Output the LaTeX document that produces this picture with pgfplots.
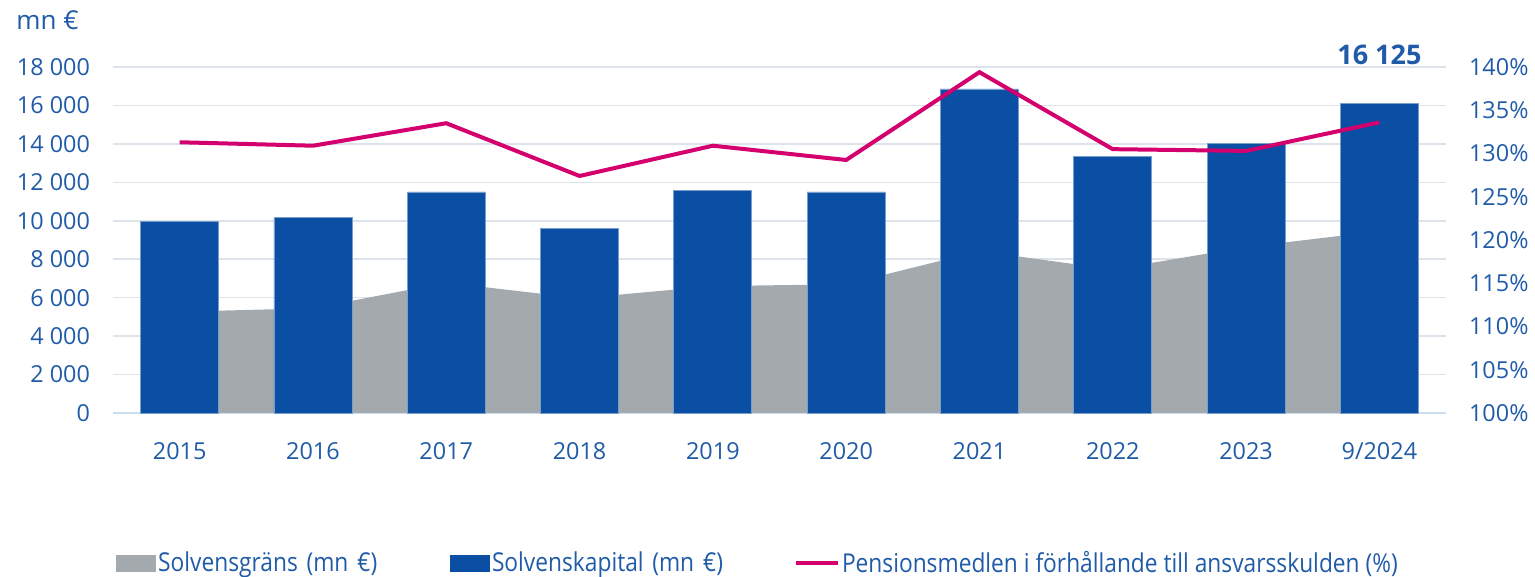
\documentclass[border=0pt]{standalone}
\usepackage{fontspec}
\setmainfont{Open Sans}
\newfontfamily\legfont[FakeStretch=0.875]{Open Sans}
\usepackage{pgfplots}
\pgfplotsset{compat=1.18}
\definecolor{barblue}{HTML}{0A4FA3}
\definecolor{areagrey}{HTML}{A3A9AC}
\definecolor{ratiopink}{HTML}{D3006D}
\definecolor{textblue}{HTML}{1F5BA8}
\definecolor{gridcol}{HTML}{DDE3EB}
\definecolor{baseblue}{HTML}{CCDDF0}

\begin{document}
\begin{tikzpicture}
\path[use as bounding box] (-56.5pt,-82pt) rectangle (711pt,206.5pt);

% left axis: bars and area
\begin{axis}[
    scale only axis, width=666.5pt, height=173pt,
    xmin=-0.5, xmax=9.5, ymin=0, ymax=18000,
    xtick={0,...,9},
    xticklabels={2015,2016,2017,2018,2019,2020,2021,2022,2023,9/2024},
    ytick={0,2000,...,18000},
    scaled y ticks=false,
    ymajorgrids, grid style={draw=gridcol, line width=0.8pt},
    axis x line*=bottom, axis y line*=left,
    x axis line style={draw=baseblue, line width=1pt},
    y axis line style={draw=none},
    tick style={draw=none},
    ticklabel style={font=\fontsize{11.7}{13}\selectfont, text=textblue},
    /pgf/number format/assume math mode=true,
    /pgf/number format/1000 sep={\ },
    yticklabel style={xshift=-8pt},
    xticklabel style={yshift=-11pt},
    clip=false,
]
\addplot[fill=areagrey, draw=none] coordinates {
    (0,5270) (1,5450) (2,6780) (3,5970) (4,6600)
    (5,6700) (6,8420) (7,7470) (8,8630) (9,9460)
} \closedcycle;
\addplot[ybar, bar width=39pt, fill=barblue, draw=barblue!55!white, line width=0.4pt] coordinates {
    (0,9950) (1,10180) (2,11500) (3,9610) (4,11600)
    (5,11500) (6,16860) (7,13340) (8,14000) (9,16125)
};
\node[anchor=base, inner sep=0pt, yshift=1pt, text=textblue,
      font=\bfseries\fontsize{13.5}{15}\selectfont] at (axis cs:9,18000) {16 125};
\node[anchor=base west, inner sep=0pt, xshift=-48.5pt, yshift=18.5pt, text=textblue,
      font=\fontsize{13}{14}\selectfont] at (axis description cs:0,1) {mn €};
\end{axis}

% right axis: ratio line, legend
\begin{axis}[
    scale only axis, width=666.5pt, height=173pt,
    xmin=-0.5, xmax=9.5, ymin=100, ymax=140,
    ytick={100,105,...,140},
    axis y line*=right, axis x line=none,
    y axis line style={draw=none},
    tick style={draw=none},
    ticklabel style={font=\fontsize{11.7}{13}\selectfont, text=textblue},
    /pgf/number format/assume math mode=true,
    yticklabel={\pgfmathprintnumber{\tick}\%},
    yticklabel style={xshift=8pt},
    clip=false,
    legend columns=3,
    legend cell align=left,
    legend style={at={(axis description cs:0,0)}, anchor=west,
        xshift=-1.5pt, yshift=-75pt, draw=none, fill=none,
        font=\legfont\fontsize{13}{15}\selectfont, text=textblue,
        nodes={inner xsep=1pt},
        /tikz/every even column/.append style={column sep=0pt}},
]
\addlegendimage{legend image code/.code={\fill[areagrey] (0pt,-4pt) rectangle (19.5pt,4pt);}}
\addlegendentry[text width=145pt]{Solvensgräns (mn €)}
\addlegendimage{legend image code/.code={\fill[barblue] (0pt,-4pt) rectangle (19.5pt,4pt);}}
\addlegendentry[text width=150pt]{Solvenskapital (mn €)}
\addplot[draw=ratiopink, line width=2pt,
    legend image code/.code={\draw[ratiopink, line width=2pt] (0pt,0pt) -- (21pt,0pt);}]
    coordinates {
    (0,131.3) (1,130.9) (2,133.5) (3,127.4) (4,130.9)
    (5,129.25) (6,139.4) (7,130.5) (8,130.3) (9,133.6)
};
\addlegendentry{Pensionsmedlen i förhållande till ansvarsskulden (\%)}
\end{axis}
\end{tikzpicture}
\end{document}
